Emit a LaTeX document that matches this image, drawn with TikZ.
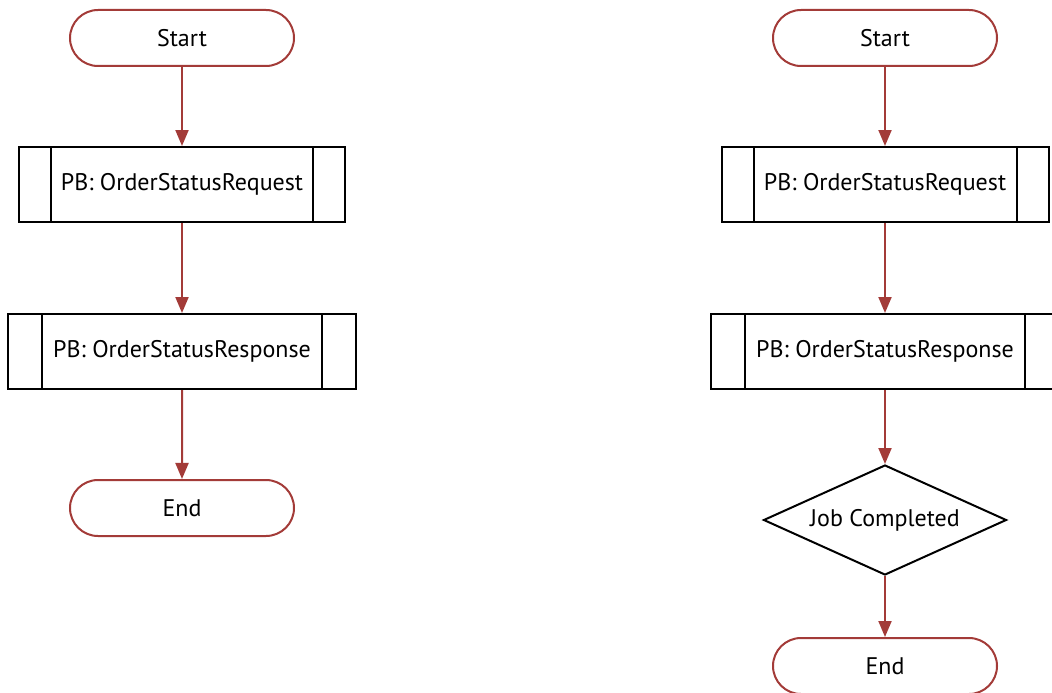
\documentclass[tikz,border=0pt]{standalone}
\usepackage{fontspec}
\setmainfont{PT Sans}
\usetikzlibrary{arrows.meta,shapes.misc,shapes.geometric}
\definecolor{fred}{HTML}{A33B38}
\tikzset{
  term/.style={draw=fred, line width=2pt, rounded rectangle, minimum width=224pt, minimum height=56pt, inner sep=0pt, font=\fontsize{24}{28}\selectfont},
  proc/.style={draw=black, line width=2pt, rectangle, minimum height=75pt, inner sep=0pt, font=\fontsize{24}{28}\selectfont},
  dec/.style={draw=black, line width=2pt, diamond, aspect=2.2, minimum width=243pt, minimum height=110pt, inner sep=0pt, font=\fontsize{24}{28}\selectfont},
  flow/.style={draw=fred, line width=2pt, -{Triangle[length=16pt,width=13pt]}},
  bar/.style={line width=2pt},
}
\begin{document}
\begin{tikzpicture}[x=1pt,y=-1pt]
\useasboundingbox (0,0) rectangle (1052,693);
\clip (0,0) rectangle (1052,693);
% left column
\node[term] (ls) at (182,38) {Start};
\node[proc, minimum width=326pt] (lp1) at (182,184.5) {PB: OrderStatusRequest};
\draw[bar] ([xshift=33pt]lp1.north west) -- ([xshift=33pt]lp1.south west)
  ([xshift=-33pt]lp1.north east) -- ([xshift=-33pt]lp1.south east);
\node[proc, minimum width=348pt] (lp2) at (182,351.5) {PB: OrderStatusResponse};
\draw[bar] ([xshift=35pt]lp2.north west) -- ([xshift=35pt]lp2.south west)
  ([xshift=-35pt]lp2.north east) -- ([xshift=-35pt]lp2.south east);
\node[term] (le) at (182,508) {End};
\draw[flow] (ls) -- (lp1);
\draw[flow] (lp1) -- (lp2);
\draw[flow] (lp2) -- (le);
% right column
\node[term] (rs) at (885,38) {Start};
\node[proc, minimum width=327pt] (rp1) at (885,184.5) {PB: OrderStatusRequest};
\draw[bar] ([xshift=33pt]rp1.north west) -- ([xshift=33pt]rp1.south west)
  ([xshift=-33pt]rp1.north east) -- ([xshift=-33pt]rp1.south east);
\node[proc, minimum width=348pt] (rp2) at (885,351.5) {PB: OrderStatusResponse};
\draw[bar] ([xshift=35pt]rp2.north west) -- ([xshift=35pt]rp2.south west)
  ([xshift=-35pt]rp2.north east) -- ([xshift=-35pt]rp2.south east);
\node[dec] (rd) at (885,520) {Job Completed};
\node[term] (re) at (885,666) {End};
\draw[flow] (rs) -- (rp1);
\draw[flow] (rp1) -- (rp2);
\draw[flow] (rp2) -- (rd);
\draw[flow] (rd) -- (re);
\end{tikzpicture}
\end{document}
